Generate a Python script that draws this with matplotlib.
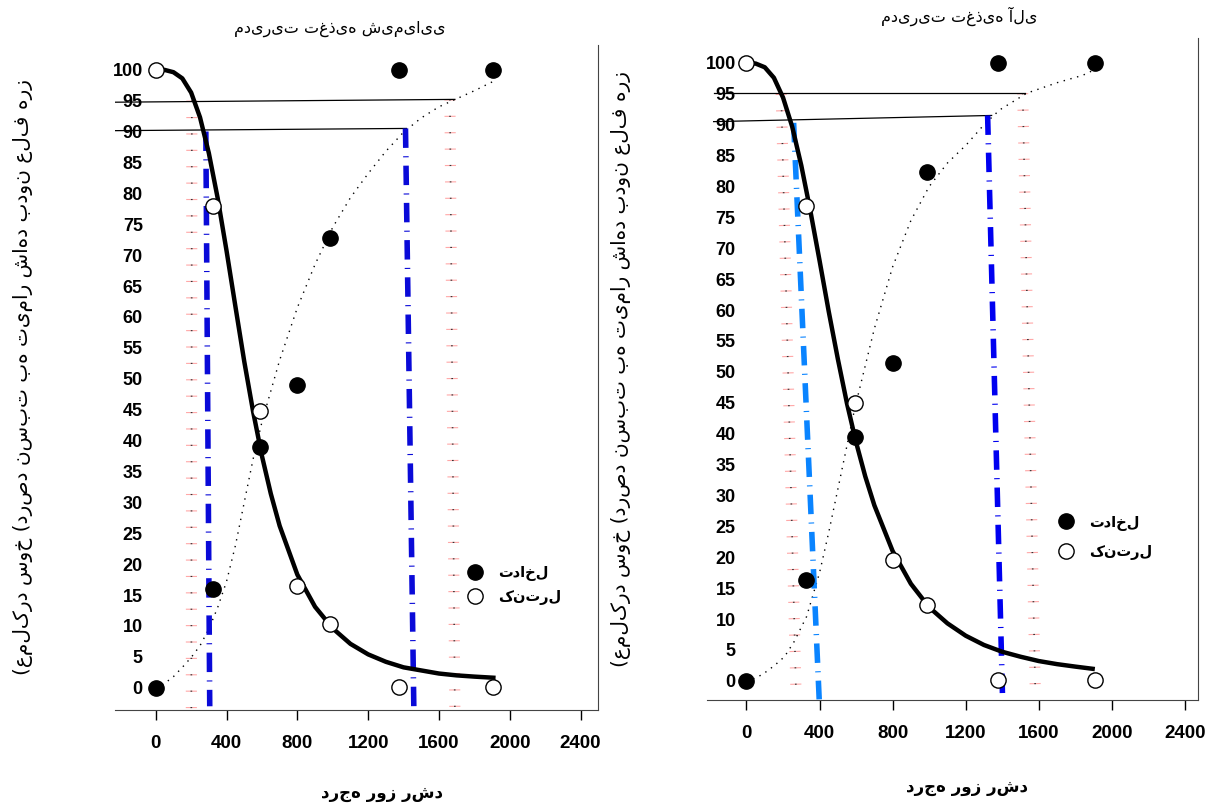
import numpy as np
import matplotlib.pyplot as plt

plt.rcParams['font.family'] = ['Liberation Sans', 'DejaVu Sans']
plt.rcParams['lines.scale_dashes'] = False

# growing degree days and observed points (chemical / organic)
gdd_chem = [0, 325, 590, 797, 985, 1375, 1905]
interf_chem = [0, 16, 39, 49, 72.7, 100, 100]
control_chem = [100, 78, 44.8, 16.4, 10.3, 0.2, 0.2]

gdd_org = [0, 327, 592, 800, 990, 1375, 1910]
interf_org = [0, 16.3, 39.5, 51.5, 82.4, 100, 100]
control_org = [100, 76.9, 45, 19.5, 12.3, 0.2, 0.2]

# fitted curves
fit_dec_chem_x = [0, 50, 100, 150, 200, 250, 300, 350, 400, 450, 500, 550, 600, 650, 700, 800, 900,
                  1000, 1100, 1200, 1300, 1400, 1500, 1600, 1700, 1800, 1920]
fit_dec_chem_y = [100, 99.97, 99.6, 98.6, 96.3, 92.3, 86.5, 79.2, 70.7, 61.7, 52.8, 44.7, 37.5, 31.4, 26.2,
                  18.3, 13.1, 9.6, 7.1, 5.4, 4.2, 3.3, 2.8, 2.3, 2.0, 1.8, 1.6]
fit_inc_chem_x = [0, 50, 100, 150, 200, 250, 300, 350, 400, 450, 500, 550, 600, 700, 800, 900, 1000,
                  1100, 1200, 1300, 1400, 1500, 1600, 1700, 1800, 1920]
fit_inc_chem_y = [0, 0.7, 1.8, 3.3, 4.9, 6.8, 9.5, 13, 17.2, 23, 30, 37, 43, 53, 61.5, 68.5, 74.5,
                  79.3, 83.2, 86.8, 89.9, 92.2, 94, 95.3, 96.6, 98.3]

fit_dec_org_x = [0, 50, 100, 150, 200, 250, 300, 350, 400, 450, 500, 550, 600, 650, 700, 800, 900,
                 1000, 1100, 1200, 1300, 1400, 1500, 1600, 1700, 1800, 1907]
fit_dec_org_y = [100, 99.9, 99.3, 97.6, 94.4, 89.7, 83.4, 76.0, 68.0, 59.8, 52.1, 44.9, 38.6, 33.1, 28.4,
                 21.0, 15.7, 11.9, 9.3, 7.3, 5.8, 4.7, 3.9, 3.2, 2.7, 2.3, 1.9]
fit_inc_org_x = [0, 55, 100, 150, 208, 260, 329, 400, 450, 500, 592, 700, 800, 900, 1000, 1100, 1205,
                 1300, 1386, 1534, 1700, 1841, 1912]
fit_inc_org_y = [0, 0.5, 1.3, 2.4, 3.9, 6.3, 10.4, 17.5, 24, 31, 44, 57, 67, 74.5, 80, 83.8, 86.8,
                 90, 92.4, 95.1, 96.8, 98, 99]

# reference levels (x start, x end, y start, y end)
ref95_chem = ([-420, 1690], [94.7, 95.2])
ref90_chem = ([-420, 1416], [90.1, 90.5])
ref95_org = ([-180, 1523], [95.1, 95.1])
ref90_org = ([-180, 1342], [90.5, 91.5])

# vertical estimates (x top, x bottom, y top, y bottom)
blue_chem = [([283, 305], [90, -3]), ([1411, 1458], [90.5, -3])]
blue_chem_col = ['#0a0ad8', '#0a0ad8']
blue_org = [([258, 398], [90.3, -3]), ([1320, 1402], [91.5, -3])]
blue_org_col = ['#0a84ff', '#0000f0']
pink_chem = [([204, 201], [95, -3.5]), ([1662, 1690], [95.2, -3.5])]
pink_org = [([190, 272], [95, -3]), ([1512, 1582], [95.1, -3])]

titles = ['مدیریت تغذیه شیمیایی', 'مدیریت تغذیه آلی']
xlab = 'درجه روز رشد'
ylab = '(عملکرد سوخ (درصد نسبت به تیمار شاهد بدون علف هرز'
leg_labels = ['تداخل', 'کنترل']

fig = plt.figure(figsize=(12.11, 8.08), dpi=100)
ax1 = fig.add_axes([0.095, 0.1213, 0.399, 0.823])
ax2 = fig.add_axes([0.584, 0.1337, 0.405, 0.819])

panels = [
    (ax1, gdd_chem, interf_chem, control_chem, fit_dec_chem_x, fit_dec_chem_y, fit_inc_chem_x, fit_inc_chem_y,
     ref95_chem, ref90_chem, blue_chem, blue_chem_col, pink_chem, (-230, 2500), (-3.6, 104)),
    (ax2, gdd_org, interf_org, control_org, fit_dec_org_x, fit_dec_org_y, fit_inc_org_x, fit_inc_org_y,
     ref95_org, ref90_org, blue_org, blue_org_col, pink_org, (-215, 2470), (-3.1, 104)),
]
leg_pos = [(0.702, 0.227), (0.689, 0.289)]
leg_space = [0.57, 0.9]
ytick_pad = [-20, -20.5]
ylab_x = [-0.17, -0.155]
title_x = [0.466, 0.514]
title_pad = [9, 12]
xlab_pos = [(0.553, -0.112), (0.53, -0.118)]

for i, (ax, gx, fi, co, dx, dy, ix, iy, r95, r90, blues, bcols, pinks, xl, yl) in enumerate(panels):
    for px, py in pinks:
        ax.plot(px, py, color='#ffa8a8', lw=8, linestyle=(0, (0.8, 11)), dash_capstyle='butt', zorder=1)
        ax.plot(px, py, color='#333333', lw=1.2, linestyle=(0, (0.8, 11)), dash_capstyle='butt', zorder=1)
    ax.plot(ix, iy, color='black', lw=1.0, linestyle=(0, (1, 4)), zorder=2)
    ax.plot(r95[0], r95[1], color='black', lw=0.9, zorder=2)
    ax.plot(r90[0], r90[1], color='black', lw=0.9, zorder=2)
    for (px, py), c in zip(blues, bcols):
        ax.plot(px, py, color=c, lw=4, linestyle=(0, (14, 6, 0.8, 6)), dash_capstyle='butt', zorder=3)
    ax.plot(dx, dy, color='black', lw=3.2, solid_capstyle='butt', zorder=4)
    h1, = ax.plot(gx, fi, 'o', ms=11, mfc='black', mec='black', mew=1, linestyle='none', zorder=5)
    h2, = ax.plot(gx, co, 'o', ms=11, mfc='white', mec='black', mew=1, linestyle='none', zorder=5)
    ax.legend([h1, h2], leg_labels, loc='upper left', bbox_to_anchor=leg_pos[i], frameon=False,
              prop={'family': 'DejaVu Sans', 'weight': 'bold', 'size': 10.5}, handletextpad=0.6,
              labelspacing=leg_space[i], borderaxespad=0)

    ax.set_xlim(*xl)
    ax.set_ylim(*yl)
    ax.set_xticks(np.arange(0, 2401, 400))
    ax.set_yticks(np.arange(0, 101, 5))
    ax.tick_params(axis='x', direction='out', length=7, width=1, labelsize=13.5, pad=11)
    ax.tick_params(axis='y', length=0, labelsize=13, pad=ytick_pad[i])
    for t in ax.get_xticklabels() + ax.get_yticklabels():
        t.set_fontweight('bold')
    ax.spines['top'].set_visible(False)
    ax.spines['left'].set_visible(False)
    ax.spines['bottom'].set_color('#444444')
    ax.spines['right'].set_color('#444444')
    ax.set_title(titles[i], family='DejaVu Sans', fontsize=11.5, pad=title_pad[i], x=title_x[i])
    ax.set_xlabel(xlab, family='DejaVu Sans', fontweight='bold', fontsize=12)
    ax.xaxis.set_label_coords(*xlab_pos[i])
    ax.set_ylabel(ylab, family='DejaVu Sans', fontsize=14.5)
    ax.yaxis.set_label_coords(ylab_x[i], 0.5)

fig.savefig('out.png', dpi=100)
